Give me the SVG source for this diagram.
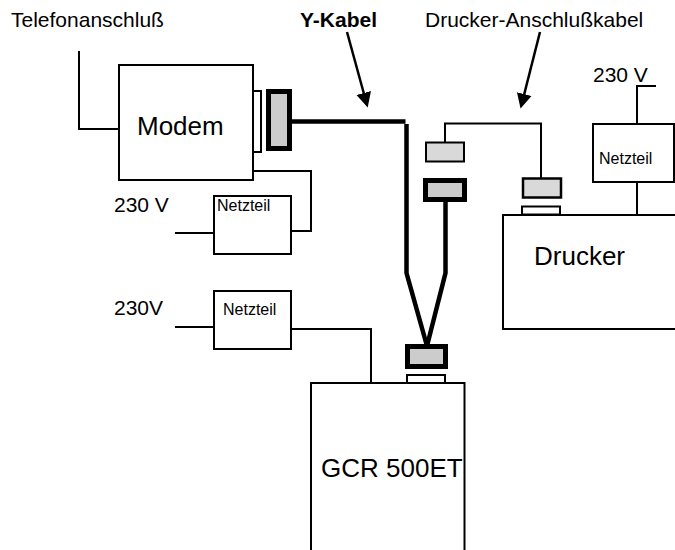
<svg xmlns="http://www.w3.org/2000/svg" width="675" height="550" viewBox="0 0 675 550">
<style>
text{font-family:"Liberation Sans",Arial,sans-serif;fill:#000}
.b{fill:#fff;stroke:#000;stroke-width:2}
.l{fill:none;stroke:#000;stroke-width:2}
.h{fill:none;stroke:#000;stroke-width:4.500}
.a{fill:none;stroke:#000;stroke-width:2.500}
.c{fill:#ccc;stroke:#000;stroke-width:5}
.d{fill:#d9d9d9;stroke:#000;stroke-width:2}
.s{font-size:21px}.n{font-size:16px}.g{font-size:26px}
</style>
<defs><marker id="arr" markerUnits="userSpaceOnUse" markerWidth="18" markerHeight="18" refX="1" refY="8" orient="auto"><path d="M0 0.500L15 8L0 15.500Z" fill="#000"/></marker></defs>
<g id="connectors">
<path class="l" d="M79 51V129H119"/>
<path class="l" d="M254 171H311V231H291"/>
<path class="l" d="M175 233H214"/>
<path class="l" d="M175 327H214"/>
<path class="l" d="M291 329H371V383"/>
<path class="l" d="M445 142V123.500H541V178"/>
<path class="l" d="M637 124V86H656"/>
<path class="l" d="M637 182V215"/>
<path class="h" d="M291 121.500H405.500"/>
<path class="h" d="M406.500 124V273L427 346"/>
<path class="h" d="M445.500 200V273L427 346"/>
<path class="a" d="M347 32L364 94" marker-end="url(#arr)"/>
<path class="a" d="M540 32L524 95" marker-end="url(#arr)"/>
</g>
<g id="modem"><rect class="b" x="119" y="65" width="134" height="115"/><text class="g" x="137" y="135">Modem</text></g>
<g id="modem-port"><rect class="b" x="253" y="91" width="8" height="61"/></g>
<g id="modem-plug"><rect class="c" x="268.500" y="91.500" width="21" height="57"/></g>
<g id="netzteil-modem"><rect class="b" x="214" y="196" width="77" height="58"/><text class="n" x="217" y="211">Netzteil</text></g>
<g id="netzteil-gcr"><rect class="b" x="214" y="291" width="77" height="58"/><text class="n" x="223" y="315">Netzteil</text></g>
<g id="netzteil-drucker"><rect class="b" x="593" y="124" width="81" height="58"/><text class="n" x="599" y="164">Netzteil</text></g>
<g id="drucker"><rect class="b" x="503" y="215" width="173" height="114"/><text class="g" x="534" y="265">Drucker</text></g>
<g id="drucker-port"><rect class="b" x="522" y="206.500" width="38" height="8"/></g>
<g id="drucker-plug"><rect class="d" x="523" y="178.500" width="38" height="19" style="stroke-width:2.500"/></g>
<g id="y-plug-open"><rect class="d" x="426" y="142.500" width="38" height="19"/></g>
<g id="y-plug-thick"><rect class="c" x="425.500" y="180.500" width="39" height="19"/></g>
<g id="y-plug-bottom"><rect class="c" x="407.500" y="346.500" width="38" height="20"/></g>
<g id="gcr-port"><rect class="b" x="407" y="375" width="38" height="8"/></g>
<g id="gcr"><rect class="b" x="311" y="383" width="153.500" height="170"/><text class="g" x="321" y="477">GCR 500ET</text></g>
<g id="labels">
<text class="s" x="11" y="27">Telefonanschluß</text>
<text class="s" x="300" y="27" style="font-weight:bold">Y-Kabel</text>
<text class="s" x="425" y="27">Drucker-Anschlußkabel</text>
<text class="s" x="593" y="82">230 V</text>
<text class="s" x="114" y="212">230 V</text>
<text class="s" x="114" y="315">230V</text>
</g>
</svg>
